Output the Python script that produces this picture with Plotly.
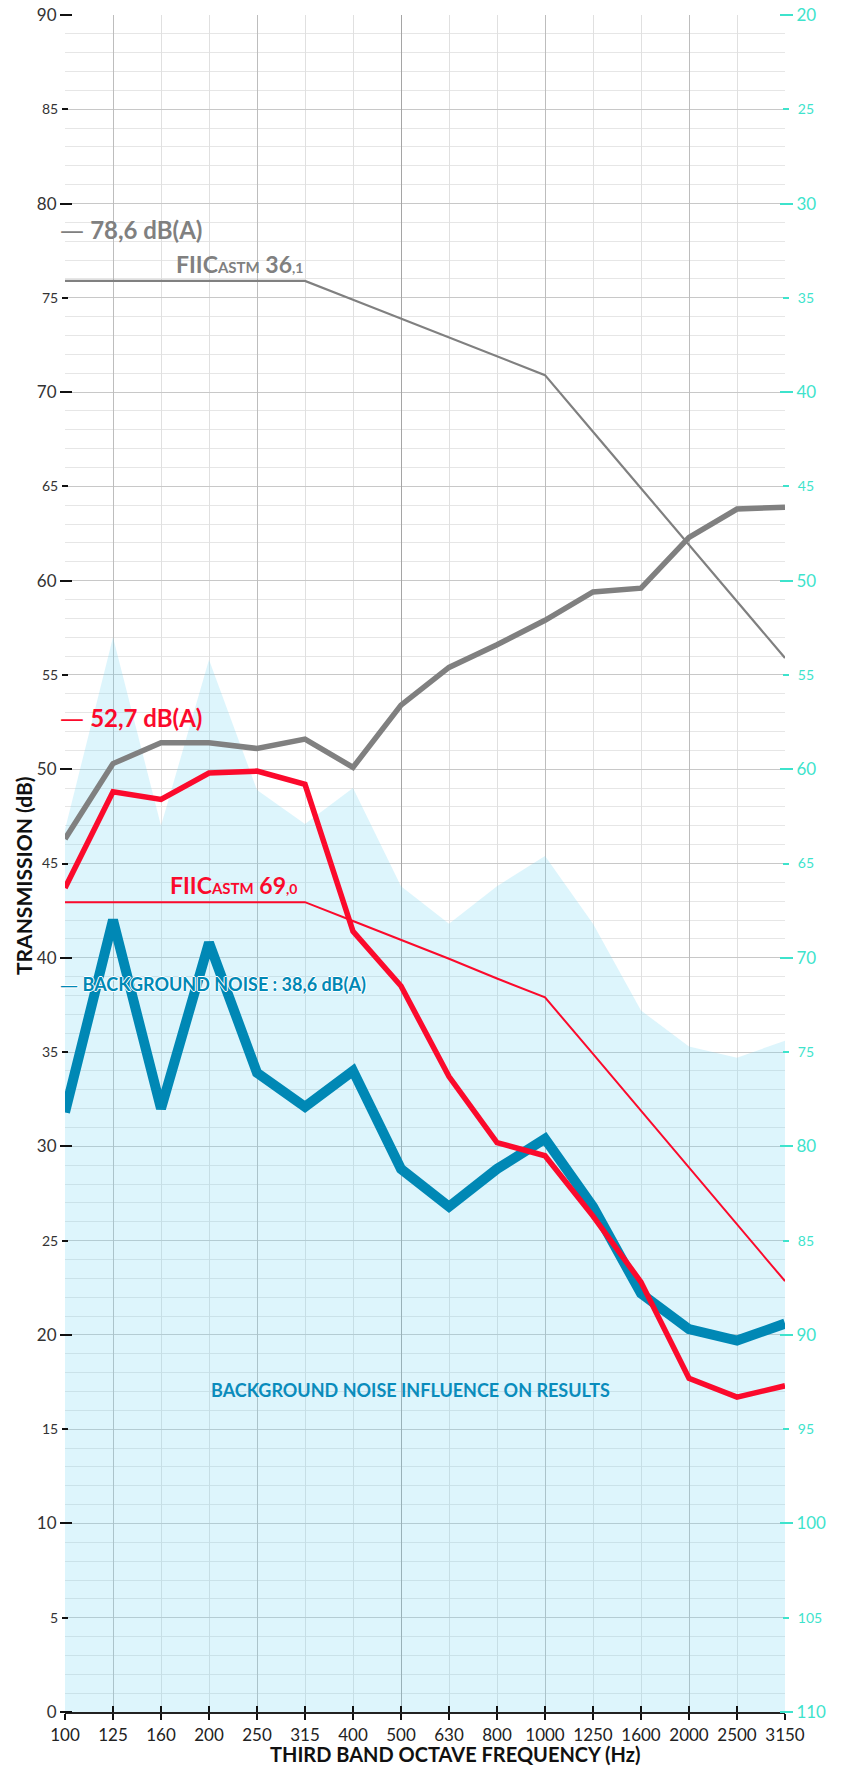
import plotly.graph_objects as go

# ---------------- data ----------------
freqs = ["100", "125", "160", "200", "250", "315", "400", "500", "630", "800",
         "1000", "1250", "1600", "2000", "2500", "3150"]

# measured transmission (grey thick)
grey_measured = [46.3, 50.3, 51.4, 51.4, 51.1, 51.6, 50.1, 53.4, 55.4, 56.6,
                 57.9, 59.4, 59.6, 62.3, 63.8, 63.9]
# FIIC reference contour for grey (thin)
grey_reference = [75.9, 75.9, 75.9, 75.9, 75.9, 75.9, 74.9, 73.9, 72.9, 71.9,
                  70.9, 67.9, 64.9, 61.9, 58.9, 55.9]
# measured transmission (red thick)
red_measured = [43.7, 48.8, 48.4, 49.8, 49.9, 49.2, 41.4, 38.5, 33.7, 30.2,
                29.5, 26.3, 22.8, 17.7, 16.7, 17.3]
# FIIC reference contour for red (thin)
red_reference = [42.95, 42.95, 42.95, 42.95, 42.95, 42.95, 41.95, 40.95, 39.95, 38.9,
                 37.9, 34.9, 31.9, 28.9, 25.9, 22.85]
# background noise (blue thick)
background_noise = [31.8, 42.0, 32.0, 40.8, 33.9, 32.1, 34.0, 28.8, 26.8, 28.8,
                    30.4, 26.8, 22.2, 20.3, 19.7, 20.6]
# background noise influence zone (light blue area)
noise_influence = [46.8, 57.0, 47.0, 55.8, 48.9, 47.1, 49.0, 43.8, 41.8, 43.8,
                   45.4, 41.8, 37.2, 35.3, 34.7, 35.6]

left_major_ticks = [0, 10, 20, 30, 40, 50, 60, 70, 80, 90]
left_minor_ticks = [5, 15, 25, 35, 45, 55, 65, 75, 85]
right_major_ticks = [20, 30, 40, 50, 60, 70, 80, 90, 100, 110]
right_minor_ticks = [25, 35, 45, 55, 65, 75, 85, 95, 105]

grey_level_label = "78,6 dB(A)"
grey_level_value = 78.6
red_level_label = "52,7 dB(A)"
red_level_value = 52.7
noise_level_label = "BACKGROUND NOISE : 38,6 dB(A)"
noise_level_value = 38.6
grey_fiic = ("36", ",1")
red_fiic = ("69", ",0")

# ---------------- style ----------------
W, H = 841, 1767
PLOT_L, PLOT_R, PLOT_T, PLOT_B = 65, 785, 15, 1712   # plot area in page pixels
ML, MT = PLOT_L, PLOT_T
MR = W - PLOT_R
MB = H - PLOT_B
PW = PLOT_R - PLOT_L
PH = PLOT_B - PLOT_T

GREY = "#808080"
RED = "#fb0a2c"
BLUE = "#0088b5"
CYAN = "#3ee3cc"
FILL = "rgba(120,215,245,0.25)"
FONT = "Lato, 'Open Sans', sans-serif"
DASH = "<span style='font-family:DejaVu Sans;font-weight:normal'>—</span>"


def px_x(p):
    return (p - PLOT_L) / PW


def px_y(p):
    return (PLOT_B - p) / PH


fig = go.Figure()

fig.add_trace(go.Scatter(x=freqs, y=noise_influence, mode="none", fill="tozeroy",
                         fillcolor=FILL, hoverinfo="skip", showlegend=False))
fig.add_trace(go.Scatter(x=freqs, y=grey_reference, mode="lines",
                         line=dict(color=GREY, width=2.2), showlegend=False))
fig.add_trace(go.Scatter(x=freqs, y=red_reference, mode="lines",
                         line=dict(color=RED, width=2), showlegend=False))
fig.add_trace(go.Scatter(x=freqs, y=grey_measured, mode="lines",
                         line=dict(color=GREY, width=5.5), showlegend=False))
fig.add_trace(go.Scatter(x=freqs, y=background_noise, mode="lines",
                         line=dict(color=BLUE, width=10), showlegend=False))
fig.add_trace(go.Scatter(x=freqs, y=red_measured, mode="lines",
                         line=dict(color=RED, width=5.5), showlegend=False))

n = len(freqs)
lin_range = [0, n - 1]

common = dict(automargin=False)
ov = dict(automargin=False, ticklabeloverflow="allow")
layout = dict(
    width=W, height=H,
    margin=dict(l=ML, r=MR, t=MT, b=MB, pad=0, autoexpand=False),
    paper_bgcolor="white", plot_bgcolor="white",
    font=dict(family=FONT, color="#222"),
    xaxis=dict(type="category", categoryorder="array", categoryarray=freqs,
               range=lin_range, showgrid=True, gridcolor="#e0e0e0", gridwidth=1.2,
               ticks="outside", ticklen=6, tickwidth=1.6, tickcolor="#111",
               showline=True, linecolor="#222", linewidth=2,
               tickfont=dict(family=FONT, size=17, color="#222"),
               ticklabelstandoff=1, zeroline=False, fixedrange=True, **ov),
    xaxis2=dict(overlaying="x", anchor="y", range=lin_range, tickmode="array",
                tickvals=list(range(n)), ticks="inside", ticklen=6, tickwidth=1.6,
                tickcolor="#111", showticklabels=False, showgrid=False,
                zeroline=False, showline=False, **common),
    xaxis3=dict(overlaying="x", anchor="y", range=lin_range, tickmode="array",
                tickvals=[1, 4, 10, 13], showticklabels=False, ticks="",
                showgrid=True, gridcolor="#bdbdbd", gridwidth=1.3,
                zeroline=False, showline=False, **common),
    xaxis4=dict(overlaying="x", anchor="y", range=lin_range, tickmode="array",
                tickvals=[7], showticklabels=False, ticks="",
                showgrid=True, gridcolor="#a5a5a5", gridwidth=1.4,
                zeroline=False, showline=False, **common),
    yaxis=dict(range=[0, 90], dtick=5, showgrid=True, gridcolor="#c8c8c8", gridwidth=1.4,
               minor=dict(dtick=1, showgrid=True, gridcolor="#e6e6e6", gridwidth=1.2),
               showticklabels=False, ticks="", zeroline=False, showline=False,
               fixedrange=True, **common),
    yaxis3=dict(overlaying="y", anchor="free", position=px_x(72), side="left",
                range=[0, 90], tickmode="array", tickvals=left_major_ticks,
                ticks="outside", ticklen=12, tickwidth=2, tickcolor="#111",
                tickfont=dict(family=FONT, size=17, color="#333"),
                ticklabelstandoff=0, showgrid=False, zeroline=False, showline=False,
                **ov),
    yaxis4=dict(overlaying="y", anchor="free", position=px_x(68), side="left",
                range=[0, 90], tickmode="array", tickvals=left_minor_ticks,
                ticks="outside", ticklen=6, tickwidth=2, tickcolor="#111",
                tickfont=dict(family=FONT, size=14, color="#333"),
                ticklabelstandoff=1, showgrid=False, zeroline=False, showline=False,
                **ov),
    yaxis2=dict(overlaying="y", anchor="free", position=px_x(779), side="right",
                range=[110, 20], tickmode="array", tickvals=right_major_ticks,
                ticks="outside", ticklen=13, tickwidth=2, tickcolor=CYAN,
                tickfont=dict(family=FONT, size=17, color=CYAN),
                ticklabelstandoff=0, showgrid=False, zeroline=False, showline=False,
                **ov),
    yaxis5=dict(overlaying="y", anchor="free", position=px_x(782), side="right",
                range=[110, 20], tickmode="array", tickvals=right_minor_ticks,
                ticks="outside", ticklen=6, tickwidth=2, tickcolor=CYAN,
                tickfont=dict(family=FONT, size=14, color=CYAN),
                ticklabelstandoff=6, showgrid=False, zeroline=False, showline=False,
                **ov),
)
fig.update_layout(**layout)

for xa, ya in [("x2", "y"), ("x3", "y"), ("x4", "y"), ("x", "y2"), ("x", "y3"),
               ("x", "y4"), ("x", "y5")]:
    fig.add_trace(go.Scatter(x=[None], y=[None], xaxis=xa, yaxis=ya, mode="lines",
                             showlegend=False, hoverinfo="skip"))

ann = []
ann.append(dict(xref="paper", yref="y", x=px_x(58), y=grey_level_value,
                xanchor="left", yanchor="middle", showarrow=False,
                text=DASH + " <b>" + grey_level_label + "</b>",
                font=dict(family=FONT, size=24, color=GREY)))
ann.append(dict(xref="paper", yref="y", x=px_x(58), y=red_level_value,
                xanchor="left", yanchor="middle", showarrow=False,
                text=DASH + " <b>" + red_level_label + "</b>",
                font=dict(family=FONT, size=24, color=RED)))
ann.append(dict(xref="paper", yref="y", x=px_x(58), y=noise_level_value,
                xanchor="left", yanchor="middle", showarrow=False,
                text=DASH + " <b>" + noise_level_label + "</b>",
                font=dict(family=FONT, size=18, color=BLUE,
                          shadow="1px 0 0 #fff, -1px 0 0 #fff, 0 1px 0 #fff, 0 -1px 0 #fff")))
ann.append(dict(xref="x", yref="y", x=5, y=grey_reference[5], xanchor="right",
                yanchor="bottom", yshift=1, showarrow=False,
                text="<b>FIIC<span style='font-size:15px'>ASTM</span> " + grey_fiic[0]
                     + "<span style='font-size:14px'>" + grey_fiic[1] + "</span></b>",
                font=dict(family=FONT, size=23, color=GREY)))
ann.append(dict(xref="x", yref="y", x=5, y=red_reference[5], xanchor="right",
                yanchor="bottom", yshift=1, xshift=-6, showarrow=False,
                text="<b>FIIC<span style='font-size:15px'>ASTM</span> " + red_fiic[0]
                     + "<span style='font-size:14px'>" + red_fiic[1] + "</span></b>",
                font=dict(family=FONT, size=23, color=RED)))
ann.append(dict(xref="paper", yref="paper", x=px_x(410), y=px_y(1390),
                xanchor="center", yanchor="middle", showarrow=False,
                text="<b>BACKGROUND NOISE INFLUENCE ON RESULTS</b>",
                font=dict(family=FONT, size=18, color="#0a8cbc")))
ann.append(dict(xref="paper", yref="paper", x=px_x(23), y=px_y(876),
                xanchor="center", yanchor="middle", showarrow=False, textangle=-90,
                text="<b>TRANSMISSION (dB)</b>",
                font=dict(family=FONT, size=21, color="#111")))
ann.append(dict(xref="paper", yref="paper", x=px_x(455), y=px_y(1754),
                xanchor="center", yanchor="middle", showarrow=False,
                text="<b>THIRD BAND OCTAVE FREQUENCY (Hz)</b>",
                font=dict(family=FONT, size=20, color="#111")))
fig.update_layout(annotations=ann)

# remove the browser's default 8px body margin so the figure fills the window
fig.write_html("out.html",
               config={"displayModeBar": False},
               post_script="document.body.style.margin='0';"
                           "document.body.style.overflow='hidden';")
